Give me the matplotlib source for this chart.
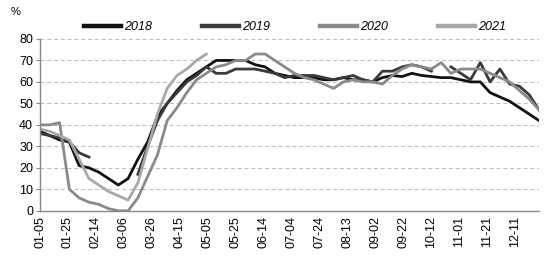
import numpy as np
import matplotlib
matplotlib.use("Agg")
import matplotlib.pyplot as plt

plt.rcParams['font.family'] = ['Liberation Sans', 'DejaVu Sans']

nan = np.nan

# weekly samples, day offset from 01-05
days = np.arange(52) * 7
tick_days = np.arange(0, 341, 20)
tick_labels = ['01-05', '01-25', '02-14', '03-06', '03-26', '04-15', '05-05', '05-25', '06-14',
               '07-04', '07-24', '08-13', '09-02', '09-22', '10-12', '11-01', '11-21', '12-11']

y2018 = [37, 35, 33, 32, 21, 20, 18, 15, 12, 15, 24, 32, 44, 50, 56, 61, 64, 67, 70, 70,
         70, 70, 68, 67, 64, 63, 62, 62, 62, 61, 61, 62, 61, 61, 60, 62, 63, 62.5, 64, 63,
         62.5, 62, 62, 61, 60, 60, 55, 53, 51, 48, 45, 42]
y2019 = [36, 35, 34, 32, 27, 25, nan, nan, nan, nan, 17, 30, 42, 50, 55, 60, 63, 67, 64, 64,
         66, 66, 66, 65, 64, 62, 63, 63, 63, 62, 61, 62, 63, 61, 60, 65, 65, 67, 68, 67,
         65, nan, 67, 64, 61, 69, 60, 66, 59, 58, 54, 47]
y2020 = [40, 40, 41, 10, 6, 4, 3, 1, 0, 0, 6, 16, 26, 42, 48, 55, 61, 64, 67, 68,
         70, 70, 73, 73, 70, 67, 64, 62, 61, 59, 57, 60, 61, 60, 60, 59, 63, 66, 68, 67,
         66, 69, 64, 66, 66, 66, 64, 62, 60, 56, 52, 47]
y2021 = [38, 37, 35, 33, 24, 15, 12, 9, 7, 5, 13, 29, 45, 57, 63, 66, 70, 73]

series = [('2018', y2018, '#111111'), ('2019', y2019, '#3a3a3a'),
          ('2020', y2020, '#8a8a8a'), ('2021', y2021, '#a8a8a8')]

fig = plt.figure(figsize=(5.52, 2.58), dpi=100)
ax = fig.add_axes([0.0725, 0.183, 0.904, 0.666])

for name, vals, col in series:
    ax.plot(days[:len(vals)], vals, color=col, lw=2.0, label=name)

ax.set_xlim(0, 357)
ax.set_ylim(0, 80)
ax.set_yticks(range(0, 81, 10))
ax.set_xticks(tick_days)
ax.set_xticklabels(tick_labels, rotation=90, fontsize=9)
ax.tick_params(axis='y', labelsize=9, length=3, color='#888888', pad=2)
ax.tick_params(axis='x', length=0, pad=4)
ax.yaxis.grid(True, ls=(0, (4, 3)), color='#bbbbbb', lw=0.7)
ax.set_axisbelow(True)
for s in ['top', 'right']:
    ax.spines[s].set_visible(False)
for s in ['left', 'bottom']:
    ax.spines[s].set_color('#888888')
    ax.spines[s].set_linewidth(1.0)

leg = fig.legend(loc='center', bbox_to_anchor=(0.535, 0.895), ncol=4, frameon=False,
                 handlelength=2.9, handletextpad=0.3, columnspacing=4.0,
                 prop={'size': 9, 'style': 'italic'})
for h in leg.get_lines():
    h.set_linewidth(3.2)

fig.text(0.02, 0.955, '%', fontsize=8, va='center')

fig.savefig('out.png', dpi=100)
